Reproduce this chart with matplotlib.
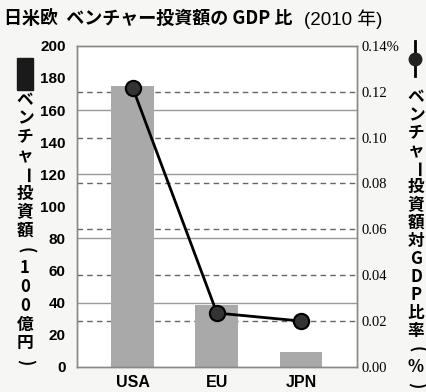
import matplotlib
matplotlib.use("Agg")
import matplotlib.pyplot as plt
from matplotlib.patches import Rectangle
from matplotlib.lines import Line2D

plt.rcParams['font.family'] = ['Noto Sans CJK JP', 'DejaVu Sans']

# data
regions = ["USA", "EU", "JPN"]
invest = [175, 38.5, 9.3]            # 100 oku yen
gdp_ratio = [0.1215, 0.0235, 0.020]  # %

left_ticks = [0, 20, 40, 60, 80, 100, 120, 140, 160, 180, 200]
right_ticks = [0.00, 0.02, 0.04, 0.06, 0.08, 0.10, 0.12, 0.14]
right_labels = ["0.00", "0.02", "0.04", "0.06", "0.08", "0.10", "0.12", "0.14%"]

title_bold = "日米欧  ベンチャー投資額の GDP 比"
title_rest = "(2010 年)"
left_label = "ベンチャー投資額(100億円)"
right_label = "ベンチャー投資額対GDP比率(%)"

W, H = 427, 392
fig = plt.figure(figsize=(W / 100, H / 100), dpi=100)
fig.patch.set_facecolor('#f6f6f4')
ax = fig.add_axes([0.180, 0.064, 0.656, 0.819])
ax.set_facecolor('white')
ax2 = ax.twinx()

ymax_l, ymax_r = 200, 0.14

# solid grid for left scale, dashed grid for right scale (behind bars)
for t in left_ticks[2:-1:2]:
    ax.axhline(t, color='#9a9a9a', lw=1.0, zorder=1)
for t in right_ticks[1:-1]:
    ax.axhline(t / ymax_r * ymax_l, color='#666666', lw=1.0, ls=(0, (4, 3)), zorder=1)

x = range(len(regions))
ax.bar(x, invest, width=0.51, color='#a9a9a9', zorder=2)
ax2.plot(x, gdp_ratio, color='black', lw=2, marker='o', markersize=11,
         markerfacecolor='#333333', markeredgecolor='black', markeredgewidth=1.5, zorder=3)

ax.set_xlim(-0.667, 2.667)
ax.set_ylim(0, ymax_l)
ax2.set_ylim(0, ymax_r)

ax.set_xticks(list(x))
ax.set_xticklabels(regions, fontsize=11.5, fontweight='bold', family='Liberation Sans')
ax.set_yticks(left_ticks)
ax.set_yticklabels([str(t) for t in left_ticks], fontsize=11, fontweight='bold', family='Liberation Sans')
ax2.set_yticks(right_ticks)
ax2.set_yticklabels(right_labels, fontsize=10.5, family='Liberation Serif')
ax.tick_params(length=0, pad=8)
ax2.tick_params(length=0, pad=3)
ax.tick_params(axis='x', pad=6)

for a in (ax, ax2):
    for s in a.spines.values():
        s.set_color('#888888')
        s.set_linewidth(1.0)

# title
fig.text(0.010, 0.952, title_bold, fontsize=13, fontweight='bold', va='center', ha='left')
fig.text(0.712, 0.952, title_rest, fontsize=13.5, va='center', ha='left',
         family=['Liberation Sans', 'Noto Sans CJK JP'])


def vertical_text(s, xpx, top, bottom, **kw):
    # stack characters top to bottom, long vowel mark and brackets turned
    n = len(s)
    step = (bottom - top) / (n - 1)
    for i, ch in enumerate(s):
        rot = -90 if ch in "ー()" else 0
        fig.text(xpx / W, 1 - (top + i * step) / H, ch, rotation=rot,
                 ha='center', va='center', rotation_mode='anchor', **kw)


# left vertical label with black square key
fig.add_artist(Rectangle((0.040, 0.770), 0.037, 0.082, transform=fig.transFigure,
                         color='#1a1a1a'))
vertical_text(left_label, 25, 100, 362, fontsize=12, fontweight='bold')

# right vertical label with line+dot key
fig.add_artist(Line2D([0.972, 0.972], [0.805, 0.895], transform=fig.transFigure,
                      color='black', lw=2))
fig.add_artist(Line2D([0.972], [0.85], transform=fig.transFigure, marker='o',
                      markersize=9, color='#222222'))
vertical_text(right_label, 416, 97, 385, fontsize=12, fontweight='bold')

fig.savefig("out.png", dpi=100, facecolor=fig.get_facecolor())
